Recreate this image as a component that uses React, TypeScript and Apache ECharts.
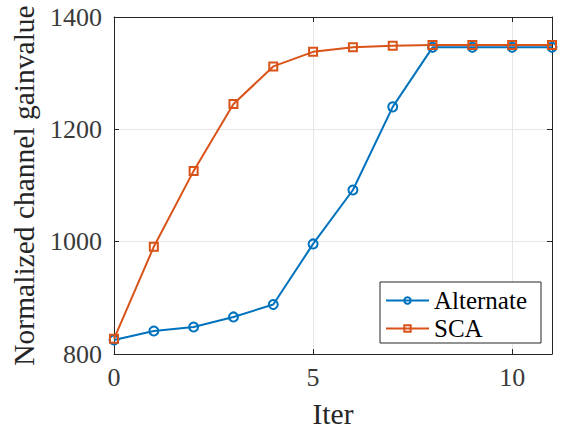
import React, { useEffect, useRef } from "react";
import * as echarts from "echarts";

const iters = [0, 1, 2, 3, 4, 5, 6, 7, 8, 9, 10, 11];
const alternate = [825, 841, 848, 866, 888, 996, 1092, 1240, 1346, 1346, 1346, 1346];
const sca = [827, 991, 1126, 1245, 1312, 1338, 1346, 1349, 1350, 1350, 1350, 1350];
const seriesNames = ["Alternate", "SCA"];
const xLabel = "Iter";
const yLabel = "Normalized channel gainvalue";

const FONT = "Liberation Serif";
const AXIS_COLOR = "#262626";
const TICK_COLOR = "#3a3a3a";
const BLUE = "#0072BD";
const ORANGE = "#D95319";

export default function App() {
  const ref = useRef<HTMLDivElement>(null);
  useEffect(() => {
    if (!ref.current) return;
    const chart = echarts.init(ref.current, undefined, { renderer: "svg" });
    const axisCommon = {
      axisLine: { show: true, onZero: false, lineStyle: { color: AXIS_COLOR, width: 1 } },
      axisTick: { show: true, inside: true, length: 5, lineStyle: { color: AXIS_COLOR } },
    };
    chart.setOption({
      animation: false,
      backgroundColor: "#fff",
      textStyle: { fontFamily: FONT },
      grid: { left: 114, top: 17, right: 22, bottom: 81, containLabel: false, outerBoundsMode: "none" },
      xAxis: [
        {
          type: "value",
          min: 0,
          max: 11,
          interval: 5,
          position: "bottom",
          name: xLabel,
          nameLocation: "middle",
          nameGap: 45,
          nameTextStyle: { fontFamily: FONT, fontSize: 29.5, color: AXIS_COLOR },
          ...axisCommon,
          axisLabel: {
            fontFamily: FONT,
            fontSize: 26,
            color: TICK_COLOR,
            margin: 10,
            showMaxLabel: false,
            formatter: (v: number) => String(v),
          },
          splitLine: { show: true, lineStyle: { color: "#e6e6e6", width: 1 } },
        },
        {
          type: "value",
          min: 0,
          max: 11,
          interval: 5,
          position: "top",
          ...axisCommon,
          axisLabel: { show: false },
          splitLine: { show: false },
        },
      ],
      yAxis: [
        {
          type: "value",
          min: 800,
          max: 1400,
          interval: 200,
          position: "left",
          name: yLabel,
          nameLocation: "middle",
          nameGap: 73,
          nameTextStyle: { fontFamily: FONT, fontSize: 29.5, color: AXIS_COLOR },
          ...axisCommon,
          axisLabel: {
            fontFamily: FONT,
            fontSize: 26,
            color: TICK_COLOR,
            margin: 12,
            formatter: (v: number) => String(v),
          },
          splitLine: { show: true, lineStyle: { color: "#e6e6e6", width: 1 } },
        },
        {
          type: "value",
          min: 800,
          max: 1400,
          interval: 200,
          position: "right",
          ...axisCommon,
          axisLabel: { show: false },
          splitLine: { show: false },
        },
      ],
      legend: {
        orient: "vertical",
        left: 380,
        top: 282,
        padding: [6, 14, 2, 5],
        itemGap: 3,
        itemWidth: 43,
        itemHeight: 8,
        borderColor: AXIS_COLOR,
        borderWidth: 1,
        backgroundColor: "#fff",
        textStyle: { fontFamily: FONT, fontSize: 25, color: "#000" },
        data: seriesNames,
      },
      series: [
        {
          name: seriesNames[0],
          type: "line",
          data: iters.map((x, i) => [x, alternate[i]]),
          symbol: "circle",
          symbolSize: 9,
          lineStyle: { color: BLUE, width: 2 },
          itemStyle: { color: "transparent", borderColor: BLUE, borderWidth: 2 },
          z: 2,
        },
        {
          name: seriesNames[1],
          type: "line",
          data: iters.map((x, i) => [x, sca[i]]),
          symbol: "rect",
          symbolSize: 8,
          lineStyle: { color: ORANGE, width: 2 },
          itemStyle: { color: "transparent", borderColor: ORANGE, borderWidth: 2 },
          z: 3,
        },
      ],
    });
    return () => chart.dispose();
  }, []);
  return <div ref={ref} style={{ width: 574, height: 435, position: "absolute", left: 0, top: 0 }} />;
}
